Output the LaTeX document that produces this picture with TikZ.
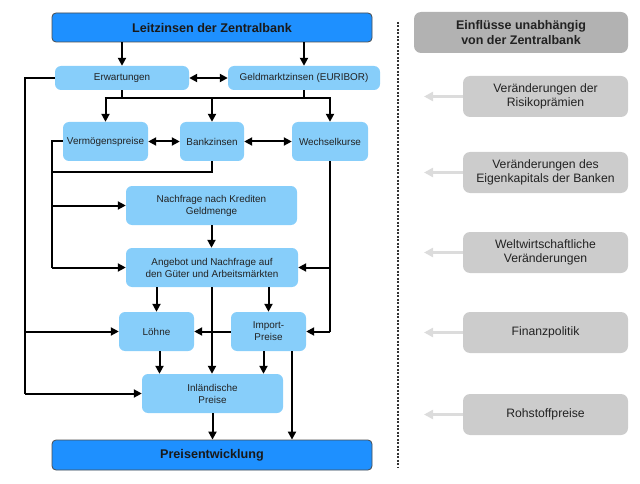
\documentclass[tikz,border=0pt]{standalone}
\usepackage{fontspec}
\setmainfont{Liberation Sans}
\usetikzlibrary{arrows.meta}
\definecolor{dblue}{RGB}{30,144,255}
\definecolor{lblue}{RGB}{135,206,250}
\definecolor{gbox}{RGB}{204,204,204}
\definecolor{gdark}{RGB}{178,178,178}
\definecolor{garrow}{RGB}{220,220,220}
\definecolor{txt}{RGB}{34,34,34}
\tikzset{
  mainbox/.style={draw=black!70, line width=0.8pt, fill=dblue, rounded corners=4pt, minimum width=320pt, minimum height=29pt, inner sep=0pt, font=\fontsize{12.6}{15}\selectfont\bfseries, text=black!90},
  lbox/.style={fill=lblue, rounded corners=6pt, inner sep=0pt, align=center, font=\fontsize{9.9}{12}\selectfont, text=txt},
  gbx/.style={fill=gbox, rounded corners=7pt, inner sep=0pt, align=center, minimum width=165pt, minimum height=41pt, font=\fontsize{12.2}{14.5}\selectfont, text=txt},
  line/.style={line width=2pt, draw=black},
  arr/.style={line width=2pt, draw=black, -{Triangle[length=8pt,width=8pt]}},
  darr/.style={line width=2pt, draw=black, {Triangle[length=8pt,width=8pt]}-{Triangle[length=8pt,width=8pt]}},
  garr/.style={line width=3pt, draw=garrow, -{Triangle[length=9pt,width=9pt]}},
  divider/.style={line width=1.5pt, draw=black!80, dash pattern=on 2pt off 1.5pt}
}
\begin{document}
\begin{tikzpicture}[x=1pt,y=-1pt]
\useasboundingbox (0,0) rectangle (640,484);
% main column
\node[mainbox] (lz) at (212,27.5) {Leitzinsen der Zentralbank};
\node[lbox, minimum width=134pt, minimum height=24pt] (erw) at (122,78) {Erwartungen};
\node[lbox, minimum width=152pt, minimum height=24pt] (geld) at (304,78) {Geldmarktzinsen (EURIBOR)};
\node[lbox, minimum width=85pt, minimum height=39pt] (verm) at (105.5,141.5) {Vermögenspreise};
\node[lbox, minimum width=64pt, minimum height=39pt] (bank) at (212,141.5) {Bankzinsen};
\node[lbox, minimum width=76pt, minimum height=39pt] (wech) at (330,141.5) {Wechselkurse};
\node[lbox, minimum width=171pt, minimum height=39pt] (nach) at (211.5,205.5) {Nachfrage nach Krediten\\Geldmenge};
\node[lbox, minimum width=172pt, minimum height=39pt] (ang) at (212,267.5) {Angebot und Nachfrage auf\\den Güter und Arbeitsmärkten};
\node[lbox, minimum width=75pt, minimum height=39pt] (loh) at (156.5,331.5) {Löhne};
\node[lbox, minimum width=75pt, minimum height=39pt] (imp) at (268.5,331.5) {Import-\\Preise};
\node[lbox, minimum width=141pt, minimum height=39pt] (inl) at (212.5,393.5) {Inländische\\Preise};
\node[mainbox, minimum height=30pt] (pe) at (212,455) {Preisentwicklung};
% helper coordinates
\coordinate (busY) at (0,98);
\coordinate (bankY) at (0,172);
\coordinate (L1) at (52,0);
\coordinate (L2) at (25,0);
\coordinate (gx) at (424,0);
% connectors
\draw[arr] (lz.south -| erw.north) -- (erw.north);
\draw[arr] (lz.south -| geld.north) -- (geld.north);
\draw[darr] (erw.east) -- (geld.west);
\draw[line] (erw.south) -- (erw.south |- busY);
\draw[line] (geld.south) -- (geld.south |- busY);
\draw[line] ([xshift=-1pt]busY -| verm.north) -- ([xshift=1pt]busY -| wech.north);
\draw[arr] (busY -| verm.north) -- (verm.north);
\draw[arr] (busY -| bank.north) -- (bank.north);
\draw[arr] (busY -| wech.north) -- (wech.north);
\draw[darr] (verm.east) -- (bank.west);
\draw[darr] (bank.east) -- (wech.west);
% left loop 1
\draw[line] (verm.west) -- (verm.west -| L1) -- (ang.west -| L1);
\draw[line] (bank.south) -- (bank.south |- bankY) -- (bankY -| L1);
\draw[arr] (nach.west -| L1) -- (nach.west);
\draw[arr] (ang.west -| L1) -- (ang.west);
% left loop 2
\draw[line] (erw.west) -- (erw.west -| L2) -- (inl.west -| L2);
\draw[arr] (loh.west -| L2) -- (loh.west);
\draw[arr] (inl.west -| L2) -- (inl.west);
% right loop
\draw[line] (wech.south) -- (wech.south |- imp.east);
\draw[arr] (wech.south |- ang.east) -- (ang.east);
\draw[arr] (wech.south |- imp.east) -- (imp.east);
% lower part
\draw[arr] (nach.south) -- (nach.south |- ang.north);
\draw[arr] (ang.south -| loh.north) -- (loh.north);
\draw[arr] (ang.south -| imp.north) -- (imp.north);
\draw[arr] (ang.south) -- (ang.south |- inl.north);
\draw[arr] (imp.west) -- (loh.east);
\draw[arr] ([xshift=3pt]loh.south) -- ([xshift=3pt]loh.south |- inl.north);
\draw[arr] ([xshift=-5pt]imp.south) -- ([xshift=-5pt]imp.south |- inl.north);
\draw[arr] ([xshift=23.5pt]imp.south) -- ([xshift=23.5pt]imp.south |- pe.north);
\draw[arr] (inl.south) -- (inl.south |- pe.north);
% divider
\draw[divider] (398,22) -- (398,468);
% right column
\node[gbx, fill=gdark, minimum width=214pt, minimum height=41pt, font=\fontsize{12.5}{15}\selectfont\bfseries] (ein) at (521,32.5) {Einflüsse unabhängig\\von der Zentralbank};
\node[gbx] (r1) at (545.5,96.5) {Veränderungen der\\Risikoprämien};
\node[gbx] (r2) at (545.5,172.5) {Veränderungen des\\Eigenkapitals der Banken};
\node[gbx] (r3) at (545.5,252.5) {Weltwirtschaftliche\\Veränderungen};
\node[gbx] (r4) at (545.5,332.5) {Finanzpolitik};
\node[gbx] (r5) at (545.5,414.5) {Rohstoffpreise};
\draw[garr] (r1.west) -- (r1.west -| gx);
\draw[garr] (r2.west) -- (r2.west -| gx);
\draw[garr] (r3.west) -- (r3.west -| gx);
\draw[garr] (r4.west) -- (r4.west -| gx);
\draw[garr] (r5.west) -- (r5.west -| gx);
\end{tikzpicture}
\end{document}
